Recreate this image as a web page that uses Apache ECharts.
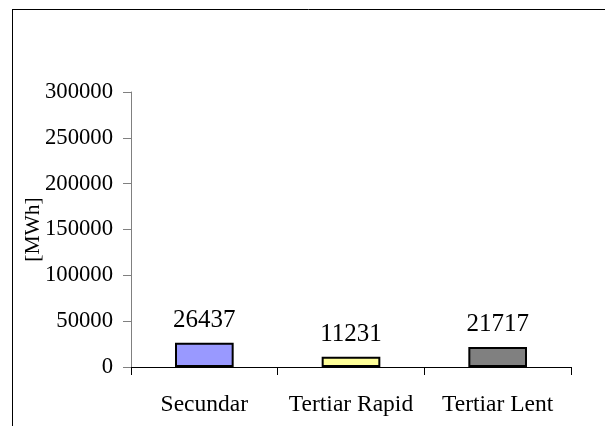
<!DOCTYPE html>
<html><head><meta charset="utf-8">
<script src="https://cdn.jsdelivr.net/npm/echarts@6/dist/echarts.min.js"></script>
<style>html,body{margin:0;padding:0;background:#fff}#c{width:605px;height:426px}</style>
</head><body><div id="c"></div>
<script>
const categories = ['Secundar', 'Tertiar Rapid', 'Tertiar Lent'];
const values = [26437, 11231, 21717];
const barColors = ['#9999FF', '#FFFF99', '#808080'];
const yTicks = [0, 50000, 100000, 150000, 200000, 250000, 300000];
const yName = '[MWh]';

const font = 'Liberation Serif, Times New Roman, serif';
const chart = echarts.init(document.getElementById('c'), null, {renderer: 'canvas'});
chart.setOption({
  animation: false,
  backgroundColor: '#fff',
  graphic: [
    {type: 'line', shape: {x1: 12, y1: 9.5, x2: 605, y2: 9.5}, style: {stroke: '#000', lineWidth: 1}},
    {type: 'line', shape: {x1: 12.5, y1: 9, x2: 12.5, y2: 426}, style: {stroke: '#000', lineWidth: 1}}
  ],
  grid: {left: 131, right: 34, top: 92, bottom: 59, containLabel: false},
  xAxis: {
    type: 'category',
    data: categories,
    axisLine: {lineStyle: {color: '#000', width: 1}},
    axisTick: {show: true, length: 8, lineStyle: {color: '#000'}},
    axisLabel: {color: '#000', fontFamily: font, fontSize: 23.5, margin: 26, interval: 0}
  },
  yAxis: {
    type: 'value',
    min: yTicks[0], max: yTicks[yTicks.length - 1], interval: yTicks[1] - yTicks[0],
    name: yName, nameLocation: 'middle', nameRotate: 90, nameGap: 87, nameMoveOverlap: false,
    nameTextStyle: {color: '#000', fontFamily: font, fontSize: 21.5},
    splitLine: {show: false},
    axisLine: {show: true, lineStyle: {color: '#808080', width: 1}},
    axisTick: {show: true, length: 8, lineStyle: {color: '#808080'}},
    axisLabel: {color: '#000', fontFamily: font, fontSize: 22.7, margin: 18, formatter: v => String(v)}
  },
  series: [{
    type: 'bar',
    barWidth: '40%',
    data: values.map((v, i) => ({value: v, itemStyle: {color: barColors[i]}})),
    itemStyle: {borderColor: '#000', borderWidth: 2},
    label: {show: true, position: 'top', distance: 10, color: '#000', fontFamily: font, fontSize: 25}
  }]
});
</script></body></html>
